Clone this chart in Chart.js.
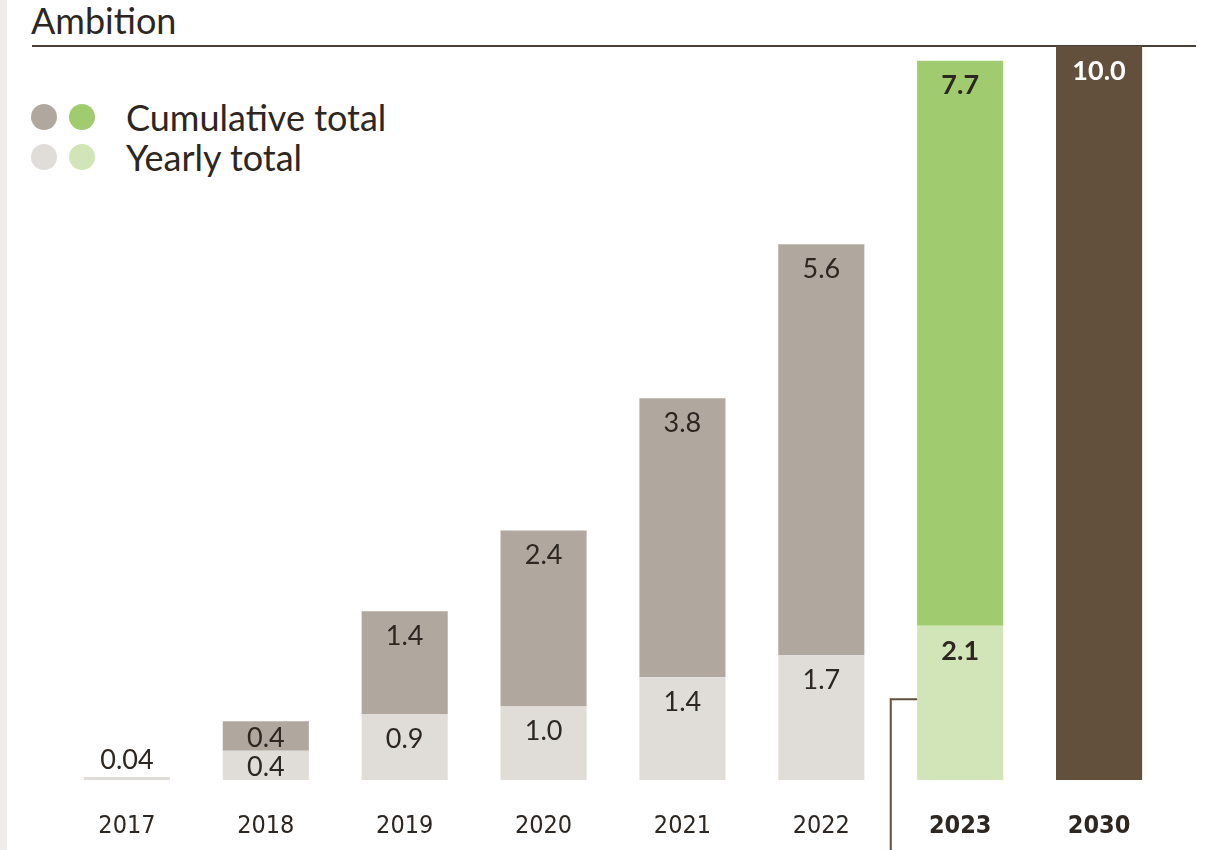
<!DOCTYPE html>
<html>
<head>
<meta charset="utf-8">
<script src="https://cdn.jsdelivr.net/npm/chart.js@4"></script>
<style>
  html, body { margin: 0; padding: 0; background: #fff; }
  #wrap { position: relative; width: 1214px; height: 850px; overflow: hidden; }
  #strip { position: absolute; left: 0; top: 0; width: 7px; height: 850px; background: #eeedeb; }
  #title { position: absolute; left: 31px; top: -2px; font: 36px Lato, sans-serif; color: #2d2621; }
  #rule { position: absolute; left: 32px; top: 45px; width: 1164px; height: 1.5px; background: #4a3f36; }
  .leg { position: absolute; font: 36px Lato, sans-serif; color: #2d2621; }
  .dot { position: absolute; width: 26px; height: 26px; border-radius: 50%; }
  canvas { position: absolute; left: 0; top: 0; }
</style>
</head>
<body>
<div id="wrap">
  <div id="strip"></div>
  <div id="title">Ambition</div>
  <div id="rule"></div>
  <div class="dot" style="left:31px;top:104px;background:#b0a89e"></div>
  <div class="dot" style="left:69px;top:104px;background:#a0cb6e"></div>
  <div class="dot" style="left:31px;top:144px;background:#e0dcd8"></div>
  <div class="dot" style="left:69px;top:144px;background:#d2e5b8"></div>
  <div class="leg" style="left:126px;top:95px">Cumulative total</div>
  <div class="leg" style="left:126px;top:135px">Yearly total</div>
  <canvas id="chart" width="1214" height="850"></canvas>
</div>
<script>
const years = ["2017", "2018", "2019", "2020", "2021", "2022", "2023", "2030"];
const yearly = [0.04, 0.4, 0.9, 1.0, 1.4, 1.7, 2.1, null];
const cumulative = [null, 0.4, 1.4, 2.4, 3.8, 5.6, 7.7, 10.0];
const yearlyColors = ["#e0dcd8", "#e0dcd8", "#e0dcd8", "#e0dcd8", "#e0dcd8", "#e0dcd8", "#d2e5b8", "#d2e5b8"];
const cumulativeColors = ["#b0a89e", "#b0a89e", "#b0a89e", "#b0a89e", "#b0a89e", "#b0a89e", "#a0cb6e", "#62503c"];
const boldYears = ["2023", "2030"];

const fmt = (v) => (v < 0.1 ? String(v) : v.toFixed(1));

const valueLabels = {
  id: "valueLabels",
  afterDatasetsDraw(chart) {
    const ctx = chart.ctx;
    ctx.save();
    ctx.textAlign = "center";
    ctx.textBaseline = "middle";
    chart.data.datasets.forEach((ds, di) => {
      chart.getDatasetMeta(di).data.forEach((bar, i) => {
        const v = ds.data[i];
        if (v == null) return;
        const h = bar.base - bar.y;
        let y;
        if (h < 10) y = bar.y - 17;
        else if (h < 50) y = (bar.y + bar.base) / 2 + 2;
        else y = bar.y + 25;
        const bold = boldYears.includes(years[i]);
        ctx.font = (bold ? "bold " : "") + "27px Lato, sans-serif";
        ctx.fillStyle = years[i] === "2030" ? "#ffffff" : "#2d2621";
        ctx.fillText(fmt(v), bar.x, y);
      });
    });
    ctx.restore();
  },
};

// bracket line separating actuals from the 2023 bar
const divider = {
  id: "divider",
  afterDatasetsDraw(chart) {
    const ctx = chart.ctx;
    const x = chart.scales.x;
    const y = chart.scales.y;
    const bar = chart.getDatasetMeta(0).data[6];
    const lx = (x.getPixelForValue(5) + x.getPixelForValue(6)) / 2;
    const ly = y.getPixelForValue(1.1);
    ctx.save();
    ctx.strokeStyle = "#62503c";
    ctx.lineWidth = 2;
    ctx.beginPath();
    ctx.moveTo(bar.x - bar.width / 2, ly);
    ctx.lineTo(lx, ly);
    ctx.lineTo(lx, chart.height);
    ctx.stroke();
    ctx.restore();
  },
};

new Chart(document.getElementById("chart"), {
  type: "bar",
  data: {
    labels: years,
    datasets: [
      { label: "Yearly total", data: yearly, backgroundColor: yearlyColors },
      { label: "Cumulative total", data: cumulative, backgroundColor: cumulativeColors },
    ],
  },
  options: {
    responsive: false,
    animation: false,
    layout: { padding: { left: 57.5, right: 45.5, top: 46, bottom: 0 } },
    datasets: { bar: { barPercentage: 0.62, categoryPercentage: 1 } },
    plugins: { legend: { display: false }, tooltip: { enabled: false } },
    scales: {
      x: {
        stacked: true,
        grid: { display: false, drawTicks: false },
        border: { display: false },
        afterFit: (s) => { s.height = 70; },
        ticks: {
          padding: 31,
          color: "#2d2621",
          font: (c) => ({
            family: "'Liberation Sans Narrow', 'DejaVu Sans Condensed', sans-serif",
            size: 25,
            weight: boldYears.includes(years[c.index]) ? "bold" : "normal",
          }),
        },
      },
      y: { stacked: true, display: false, min: 0, max: 10 },
    },
  },
  plugins: [valueLabels, divider],
});
</script>
</body>
</html>
